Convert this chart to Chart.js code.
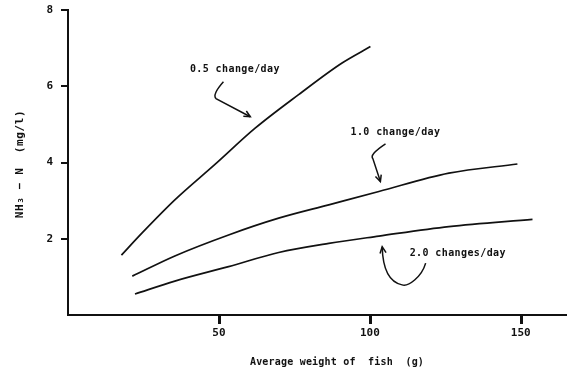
<!DOCTYPE html>
<html>
<head>
<meta charset="utf-8">
<script src="https://cdn.jsdelivr.net/npm/chart.js@4.4.1/dist/chart.umd.min.js"></script>
<style>
  html, body { margin: 0; padding: 0; background: #fff; }
  #wrap { width: 575px; height: 374px; }
</style>
</head>
<body>
<div id="wrap"><canvas id="myChart" width="575" height="374"></canvas></div>
<script>
// values
const xHalf = [17.7, 24.4, 35.4, 48.7, 62, 76.4, 90.8, 100.2];
const yHalf = [1.57, 2.14, 3.02, 3.95, 4.9, 5.78, 6.61, 7.04];
const xOne = [21.3, 35.4, 53.2, 69.8, 86.4, 103, 126.2, 148.9];
const yOne = [1.02, 1.55, 2.1, 2.54, 2.89, 3.24, 3.72, 3.96];
const xTwo = [22.2, 35.4, 53.2, 69.8, 86.4, 103, 126.2, 153.9];
const yTwo = [0.55, 0.89, 1.27, 1.64, 1.88, 2.07, 2.32, 2.51];

const xTicks = [50, 100, 150];
const yTicks = [2, 4, 6, 8];

const seriesLabels = ['0.5 change/day', '1.0 change/day', '2.0 changes/day'];
// where each label sits (data units, left edge / middle)
const labelX = [40.4, 93.6, 113.2];
const labelY = [6.43, 4.78, 1.62];
// hand drawn arrows: start, bend(s), tip
const arrows = [
    [[51.5, 6.12], [48.7, 5.73], [60.4, 5.2]],
    [[105.2, 4.49], [100.7, 4.15], [103.5, 3.5]],
    [[118.5, 1.36], [110.7, 0.79], [105.7, 1.27], [104.1, 1.79]]
];

const ink = '#111';
const font = '"DejaVu Sans Mono", monospace';

function pts(xs, ys) {
    return xs.map((x, i) => ({ x: x, y: ys[i] }));
}

function line(data) {
    return {
        data: data,
        borderColor: ink,
        borderWidth: 1.7,
        pointRadius: 0,
        fill: false,
        tension: 0.4,
        cubicInterpolationMode: 'monotone'
    };
}

const annotations = {
    id: 'annotations',
    afterDraw: (chart) => {
        const ctx = chart.ctx;
        const sx = chart.scales.x, sy = chart.scales.y;
        const area = chart.chartArea;
        const px = (p) => [sx.getPixelForValue(p[0]), sy.getPixelForValue(p[1])];
        ctx.save();
        ctx.fillStyle = ink;
        ctx.strokeStyle = ink;

        // tick marks (outside the axes)
        const base = Math.round(area.bottom);
        xTicks.forEach(v => {
            const x = Math.round(sx.getPixelForValue(v));
            ctx.fillRect(x - 1, base, 3, 9);
        });
        yTicks.forEach(v => {
            const y = Math.round(sy.getPixelForValue(v));
            ctx.fillRect(Math.round(area.left) - 7, y - 1, 7, 2);
        });

        ctx.font = 'bold 10px ' + font;
        ctx.letterSpacing = '0.4px';
        ctx.textBaseline = 'middle';
        seriesLabels.forEach((t, i) => {
            ctx.fillText(t, sx.getPixelForValue(labelX[i]), sy.getPixelForValue(labelY[i]));
        });

        ctx.lineWidth = 1.5;
        arrows.forEach(a => {
            const p = a.map(px);
            ctx.beginPath();
            ctx.moveTo(p[0][0], p[0][1]);
            if (p.length === 3) {
                ctx.quadraticCurveTo(p[1][0] - 3, p[1][1] - 2, p[1][0] + 1, p[1][1] + 2);
                ctx.lineTo(p[2][0], p[2][1]);
            } else {
                ctx.bezierCurveTo(p[0][0] - 4, p[0][1] + 14, p[1][0] + 6, p[1][1] + 2, p[1][0], p[1][1]);
                ctx.quadraticCurveTo(p[2][0] - 4, p[1][1] - 4, p[3][0], p[3][1]);
            }
            ctx.stroke();
            // head
            const tip = p[p.length - 1], prev = p.length === 3 ? p[1] : [p[2][0] - 1, p[2][1] + 8];
            const ang = Math.atan2(tip[1] - prev[1], tip[0] - prev[0]);
            ctx.beginPath();
            ctx.moveTo(tip[0] - 7 * Math.cos(ang - 0.45), tip[1] - 7 * Math.sin(ang - 0.45));
            ctx.lineTo(tip[0], tip[1]);
            ctx.lineTo(tip[0] - 7 * Math.cos(ang + 0.45), tip[1] - 7 * Math.sin(ang + 0.45));
            ctx.stroke();
        });

        // axis titles
        ctx.letterSpacing = '0.2px';
        ctx.textAlign = 'center';
        ctx.font = 'bold 10px ' + font;
        ctx.fillText('Average weight of  fish  (g)', 337, 362);
        ctx.translate(20, 164);
        ctx.rotate(-Math.PI / 2);
        ctx.letterSpacing = '0.6px';
        ctx.font = 'bold 11px ' + font;
        ctx.fillText('NH\u2083 \u2212 N  (mg/l)', 0, 0);
        ctx.restore();
    }
};

const chartCanvasElement = document.getElementById('myChart');
new Chart(chartCanvasElement, {
    type: 'line',
    data: {
        datasets: [line(pts(xHalf, yHalf)), line(pts(xOne, yOne)), line(pts(xTwo, yTwo))]
    },
    options: {
        responsive: false,
        animation: false,
        events: [],
        layout: { padding: { top: 10, right: 9, left: 0, bottom: 0 } },
        plugins: { legend: { display: false }, tooltip: { enabled: false } },
        scales: {
            x: {
                type: 'linear',
                min: 0,
                max: 165,
                afterBuildTicks: (axis) => { axis.ticks = xTicks.map(v => ({ value: v })); },
                afterFit: (axis) => { axis.height = 59; axis.paddingLeft = 0; axis.paddingRight = 0; },
                border: { display: true, color: ink, width: 2 },
                grid: { display: false, drawTicks: false },
                ticks: { color: ink, font: { family: font, size: 11, weight: 'bold' }, padding: 12, maxRotation: 0 }
            },
            y: {
                type: 'linear',
                min: 0,
                max: 8,
                afterBuildTicks: (axis) => { axis.ticks = yTicks.map(v => ({ value: v })); },
                afterFit: (axis) => { axis.width = 68; axis.paddingTop = 0; axis.paddingBottom = 0; },
                border: { display: true, color: ink, width: 2 },
                grid: { display: false, drawTicks: false },
                ticks: { color: ink, font: { family: font, size: 11, weight: 'bold' }, padding: 15 }
            }
        }
    },
    plugins: [annotations]
});
</script>
</body>
</html>
